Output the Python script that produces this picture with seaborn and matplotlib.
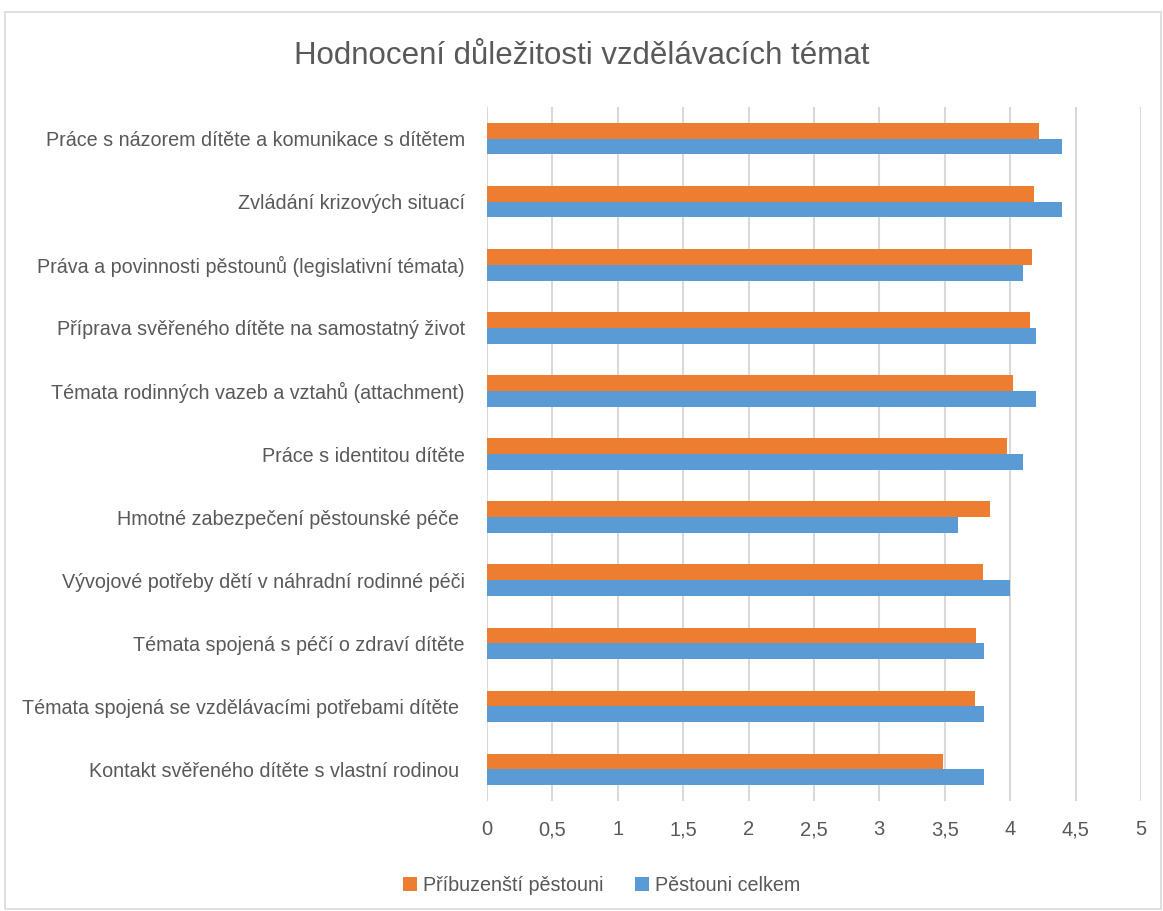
import matplotlib
matplotlib.use("Agg")
import matplotlib.pyplot as plt
import seaborn as sns
import pandas as pd
from matplotlib.patches import Rectangle
from matplotlib.ticker import FuncFormatter

categories = [
    "Práce s názorem dítěte a komunikace s dítětem",
    "Zvládání krizových situací",
    "Práva a povinnosti pěstounů (legislativní témata)",
    "Příprava svěřeného dítěte na samostatný život",
    "Témata rodinných vazeb a vztahů (attachment)",
    "Práce s identitou dítěte",
    "Hmotné zabezpečení pěstounské péče ",
    "Vývojové potřeby dětí v náhradní rodinné péči",
    "Témata spojená s péčí o zdraví dítěte",
    "Témata spojená se vzdělávacími potřebami dítěte ",
    "Kontakt svěřeného dítěte s vlastní rodinou ",
]
series_names = ["Příbuzenští pěstouni", "Pěstouni celkem"]
pribuzensti = [4.22, 4.18, 4.17, 4.15, 4.02, 3.98, 3.85, 3.79, 3.74, 3.73, 3.49]
celkem = [4.40, 4.40, 4.10, 4.20, 4.20, 4.10, 3.60, 4.00, 3.80, 3.80, 3.80]
x_ticks = [0, 0.5, 1, 1.5, 2, 2.5, 3, 3.5, 4, 4.5, 5]
title = "Hodnocení důležitosti vzdělávacích témat"

colors = ["#ED7D31", "#5B9BD5"]
text_color = "#595959"

df = pd.DataFrame({
    "tema": categories * 2,
    "skupina": [series_names[0]] * len(categories) + [series_names[1]] * len(categories),
    "hodnota": pribuzensti + celkem,
})

sns.set_theme(style="white")
plt.rcParams["font.family"] = ["Liberation Sans", "DejaVu Sans"]

fig = plt.figure(figsize=(11.63, 9.11), dpi=100)
ax = fig.add_axes([0.4187, 0.1207, 0.5623, 0.7618])

sns.barplot(data=df, y="tema", x="hodnota", hue="skupina", order=categories,
            hue_order=series_names, palette=colors, width=0.5, orient="h",
            ax=ax, saturation=1, edgecolor="none", errorbar=None)

ax.set_xlim(0, 5)
ax.set_xticks(x_ticks)
ax.xaxis.set_major_formatter(FuncFormatter(lambda v, p: f"{v:g}".replace(".", ",")))
ax.grid(axis="x", color="#D9D9D9", linewidth=1.5)
ax.set_axisbelow(True)
for s in ax.spines.values():
    s.set_visible(False)
ax.set_xlabel("")
ax.set_ylabel("")
ax.tick_params(axis="y", length=0, pad=16, labelsize=14.2, labelcolor=text_color)
ax.tick_params(axis="x", length=0, pad=14, labelsize=14.5, labelcolor=text_color)

leg = ax.legend(loc="upper center", bbox_to_anchor=(0.175, -0.082), ncol=2, frameon=False,
                fontsize=14.2, handlelength=0.7, handleheight=0.7, handletextpad=0.3,
                columnspacing=1.6, labelcolor=text_color)

fig.text(0.5, 0.938, title, ha="center", va="center", fontsize=22.5, color=text_color)

fig.patches.append(Rectangle((0.004, 0.002), 0.994, 0.985, transform=fig.transFigure,
                             fill=False, edgecolor="#D9D9D9", linewidth=1.2))

fig.savefig("out.png", dpi=100, facecolor="white")
